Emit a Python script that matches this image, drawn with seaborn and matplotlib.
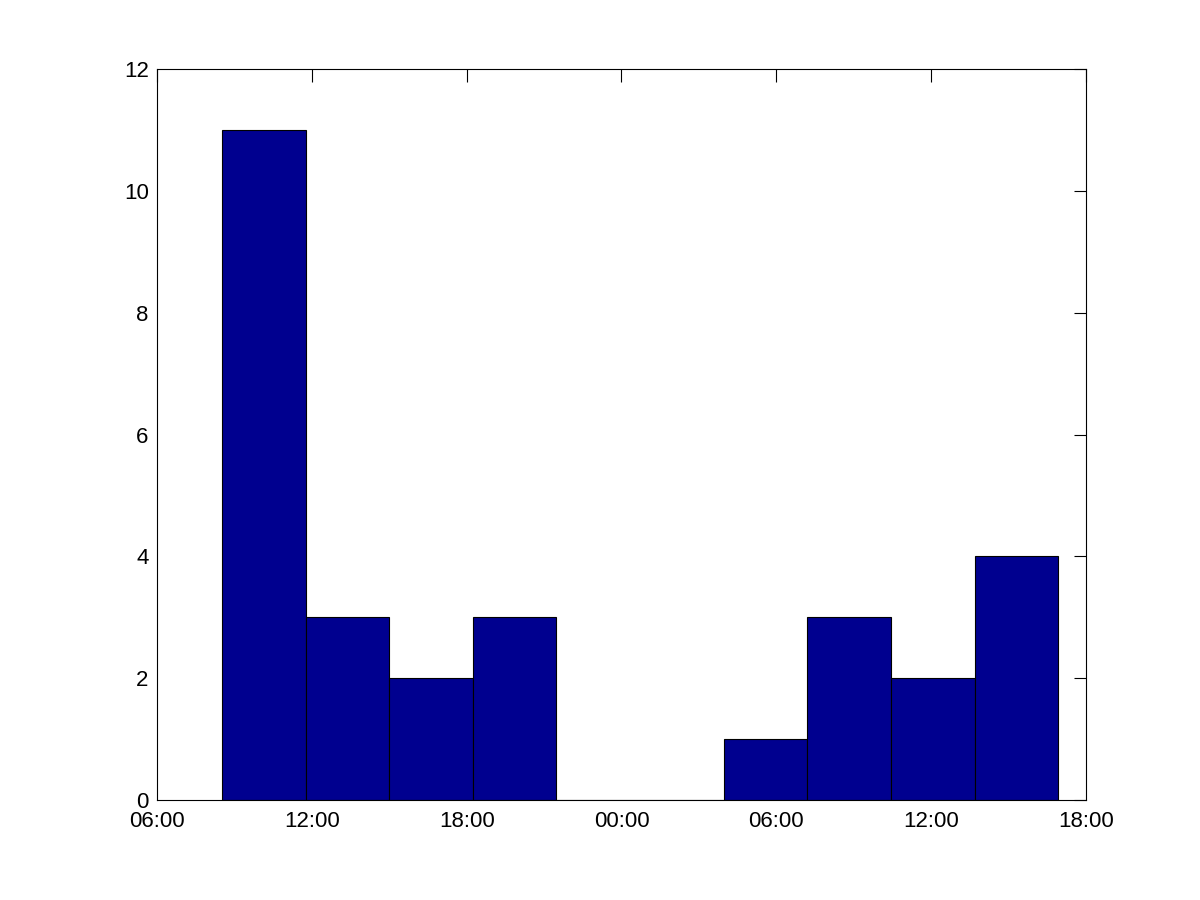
import matplotlib
matplotlib.use('Agg')
import matplotlib.pyplot as plt
import seaborn as sns

# hours since 06:00 on the first day
bin_edges = [2.52, 5.76, 9.0, 12.24, 15.48, 18.72, 21.96, 25.2, 28.44, 31.68, 34.92]
counts = [11, 3, 2, 3, 0, 0, 1, 3, 2, 4]
tick_hours = [0, 6, 12, 18, 24, 30, 36]
tick_labels = ['06:00', '12:00', '18:00', '00:00', '06:00', '12:00', '18:00']

centers = [(bin_edges[i] + bin_edges[i + 1]) / 2 for i in range(len(counts))]

sns.set_style('white')
plt.rcParams['font.family'] = ['Liberation Sans', 'DejaVu Sans']

fig = plt.figure(figsize=(12, 9), dpi=100)
ax = fig.add_axes([0.1308, 0.1111, 0.7742, 0.8122])

sns.histplot(x=centers, weights=counts, bins=bin_edges, ax=ax,
             color='#00008f', edgecolor='black', linewidth=0.8, alpha=1.0)

ax.set_xlim(0, 36)
ax.set_ylim(0, 12)
ax.set_xticks(tick_hours)
ax.set_xticklabels(tick_labels)
ax.set_yticks([0, 2, 4, 6, 8, 10, 12])
ax.set_xlabel('')
ax.set_ylabel('')
ax.tick_params(direction='in', length=9, width=0.8, top=True, right=True,
               labelsize=16, colors='black')
ax.tick_params(axis='x', pad=8)
ax.tick_params(axis='y', pad=6)
for s in ax.spines.values():
    s.set_visible(True)
    s.set_color('black')
    s.set_linewidth(0.8)

fig.savefig('out.png', dpi=100)
